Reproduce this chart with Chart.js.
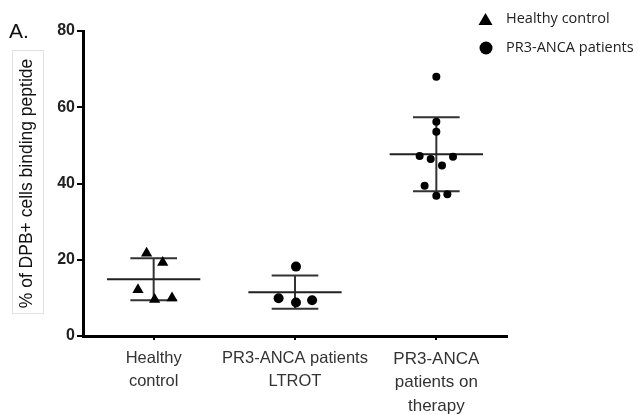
<!DOCTYPE html>
<html>
<head>
<meta charset="utf-8">
<script src="https://cdn.jsdelivr.net/npm/chart.js@4.4.1/dist/chart.umd.min.js"></script>
<style>
  html, body { margin: 0; padding: 0; background: #fff; }
  #wrap { width: 639px; height: 415px; position: relative; }
</style>
</head>
<body>
<div id="wrap"><canvas id="scatterChart"></canvas></div>
<script>
// groups on the x axis
const groupLabels = [
  ['Healthy', 'control'],
  ['PR3-ANCA patients', 'LTROT'],
  ['PR3-ANCA', 'patients on', 'therapy']
];
const yTicks = [0, 20, 40, 60, 80];

// individual donors (x = group position with jitter)
const healthyX = [0.95, 1.064, 0.889, 1.007, 1.13];
const healthyY = [21.7, 19.3, 12.1, 9.6, 10.0];
const ltrotX = [2.007, 1.884, 2.007, 2.121];
const ltrotY = [18.2, 9.9, 8.8, 9.4];
const therapyX = [3.0, 3.0, 3.0, 2.882, 2.96, 3.118, 3.04, 2.917, 3.0, 3.078];
const therapyY = [68.0, 56.2, 53.6, 47.2, 46.4, 47.0, 44.7, 39.4, 36.8, 37.2];

// mean +/- SD per group
const groupMean = [14.9, 11.5, 47.7];
const groupSD = [5.5, 4.35, 9.7];

const legendItems = ['Healthy control', 'PR3-ANCA patients'];

const pts = (xs, ys) => xs.map((x, i) => ({ x: x, y: ys[i] }));

// mean bars and error bars as line segments separated by gaps
const meanLines = [];
const sdLines = [];
groupMean.forEach((m, i) => {
  const c = i + 1, s = groupSD[i];
  meanLines.push({ x: c - 0.33, y: m }, { x: c + 0.33, y: m }, { x: c + 0.5, y: null });
  sdLines.push({ x: c, y: m - s }, { x: c, y: m + s }, { x: c, y: null });
  sdLines.push({ x: c - 0.165, y: m + s }, { x: c + 0.165, y: m + s }, { x: c, y: null });
  sdLines.push({ x: c - 0.165, y: m - s }, { x: c + 0.165, y: m - s }, { x: c, y: null });
});

// panel letter, title box and legend
const decorations = {
  id: 'decorations',
  afterDraw(chart) {
    const ctx = chart.ctx;
    ctx.save();
    ctx.fillStyle = '#111';
    ctx.font = '21px "Liberation Sans", Arial, sans-serif';
    ctx.textBaseline = 'alphabetic';
    ctx.fillText('A.', 9, 38);

    ctx.strokeStyle = '#e2e2e2';
    ctx.lineWidth = 1;
    ctx.strokeRect(12.5, 50.5, 31, 263);

    ctx.fillStyle = '#000';
    ctx.beginPath();
    ctx.moveTo(485.5, 13);
    ctx.lineTo(492.5, 25);
    ctx.lineTo(478.5, 25);
    ctx.closePath();
    ctx.fill();
    ctx.beginPath();
    ctx.arc(486, 48, 6.5, 0, Math.PI * 2);
    ctx.fill();

    ctx.fillStyle = '#222';
    ctx.font = '14.5px "Open Sans", sans-serif';
    ctx.textBaseline = 'middle';
    ctx.fillText(legendItems[0], 506, 19);
    ctx.fillText(legendItems[1], 506, 48);
    ctx.restore();
  }
};

new Chart(document.getElementById('scatterChart'), {
  type: 'scatter',
  data: {
    datasets: [
      { label: 'mean', type: 'line', data: meanLines, borderColor: '#222', borderWidth: 2,
        pointRadius: 0, spanGaps: false, fill: false, order: 2 },
      { label: 'sd', type: 'line', data: sdLines, borderColor: '#333', borderWidth: 2,
        pointRadius: 0, spanGaps: false, fill: false, order: 2 },
      { label: legendItems[0], data: pts(healthyX, healthyY), pointStyle: 'triangle',
        pointRadius: 6.5, backgroundColor: '#000', borderColor: '#000', borderWidth: 0, order: 1 },
      { label: legendItems[1], data: pts(ltrotX, ltrotY), pointStyle: 'circle',
        pointRadius: 5, backgroundColor: '#000', borderColor: '#000', borderWidth: 0, order: 1 },
      { label: legendItems[1], data: pts(therapyX, therapyY), pointStyle: 'circle',
        pointRadius: 4, backgroundColor: '#000', borderColor: '#000', borderWidth: 0, order: 1 }
    ]
  },
  options: {
    responsive: true,
    maintainAspectRatio: false,
    animation: false,
    layout: { padding: { left: 0, right: 132, top: 31, bottom: 0 } },
    plugins: { legend: { display: false }, tooltip: { enabled: false } },
    scales: {
      x: {
        type: 'linear',
        min: 0.5,
        max: 3.5,
        afterBuildTicks: (scale) => { scale.ticks = groupLabels.map((_, i) => ({ value: i + 1 })); },
        afterFit: (scale) => { scale.height = 79; },
        border: { display: true, color: '#000', width: 3 },
        grid: { drawOnChartArea: false, drawTicks: true, tickLength: 4, color: '#000', lineWidth: 2 },
        ticks: {
          color: '#333',
          padding: 7,
          maxRotation: 0,
          font: (c) => ({ family: '"Liberation Sans", Arial, sans-serif',
                          size: c.index === 2 ? 17 : 16.5, lineHeight: 1.4 }),
          callback: (v) => groupLabels[v - 1]
        }
      },
      y: {
        min: 0,
        max: 80,
        afterBuildTicks: (scale) => { scale.ticks = yTicks.map(v => ({ value: v })); },
        afterFit: (scale) => { scale.width = 83; },
        border: { display: true, color: '#000', width: 3 },
        grid: { drawOnChartArea: false, drawTicks: true, tickLength: 6, color: '#000', lineWidth: 2 },
        ticks: {
          color: '#222',
          padding: 2,
          font: { family: '"Liberation Sans", Arial, sans-serif', size: 16, weight: 'bold' }
        },
        title: {
          display: true,
          text: '% of DPB+ cells binding peptide',
          color: '#111',
          padding: { top: 17, bottom: 0 },
          font: { family: '"Liberation Sans", Arial, sans-serif', size: 17.5 }
        }
      }
    }
  },
  plugins: [decorations]
});
</script>
</body>
</html>
